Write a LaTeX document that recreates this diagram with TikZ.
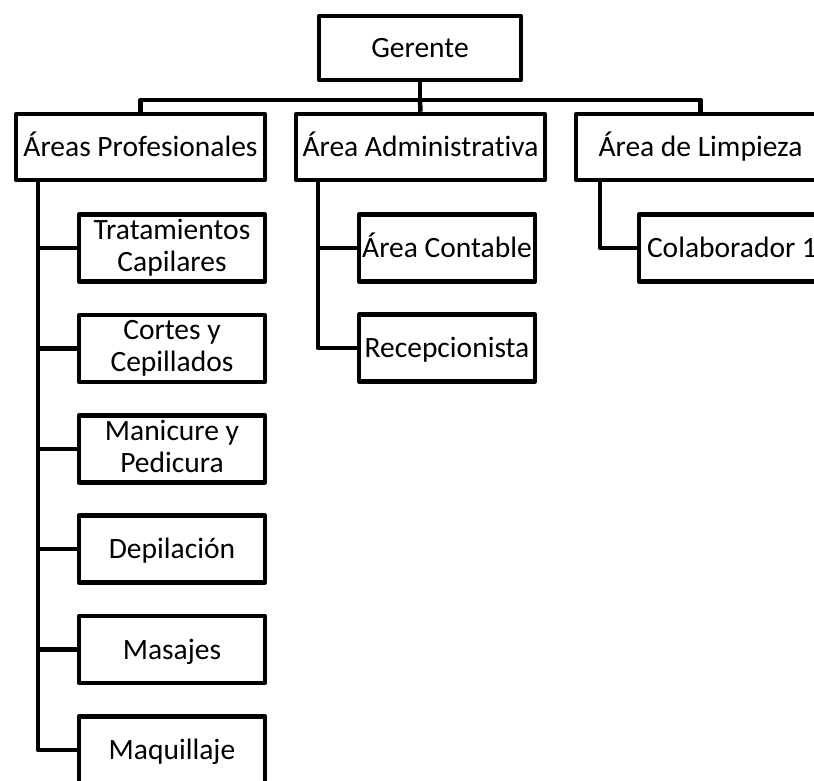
\documentclass[tikz,border=0pt]{standalone}
\usepackage{fontspec}
\setmainfont{Carlito}[Ligatures=NoCommon]
\usepackage{tikz}
\usetikzlibrary{positioning}
\newcommand{\orgstrut}{\rule[-5pt]{0pt}{29pt}}
\tikzset{orgbox/.style={rectangle,draw=black,fill=white,line width=4.5pt,
line join=round,inner sep=0pt,align=center,
font=\fontsize{29.5}{32}\selectfont,execute at begin node=\orgstrut}}
\tikzset{toplevel/.style={orgbox,minimum width=202pt,minimum height=64pt}}
\tikzset{arealevel/.style={orgbox,minimum width=249pt,minimum height=66pt}}
\tikzset{subarea/.style={orgbox,minimum width=186pt,minimum height=67pt}}
\tikzset{link/.style={line width=4.5pt,line join=round}}

\begin{document}
\begin{tikzpicture}[x=1pt,y=-1pt]
        \useasboundingbox (0,0) rectangle (814,780);

        \node[toplevel] (ger) at (420,48) {Gerente};

        \node[arealevel] (prof) at (140.5,147) {Áreas Profesionales};
        \node[arealevel] (admin) at (420.5,147) {Área Administrativa};
        \node[arealevel] (limp) at (700.5,147) {Área de Limpieza};

        \node[subarea] (trat) at (172,248) {Tratamientos\\\orgstrut Capilares};
        \node[subarea] (cort) at (172,348.4) {Cortes y\\\orgstrut Cepillados};
        \node[subarea] (mani) at (172,448.8) {Manicure y\\\orgstrut Pedicura};
        \node[subarea] (depi) at (172,549.2) {Depilación};
        \node[subarea] (masa) at (172,649.6) {Masajes};
        \node[subarea] (maqu) at (172,750) {Maquillaje};

        \node[subarea,minimum width=176pt] (cont) at (447,248) {Área Contable};
        \node[subarea,minimum width=176pt] (recep) at (447,348) {Recepcionista};

        \node[subarea] (colab) at (732,248) {Colaborador 1};

        % bus under the manager
        \draw[link] (ger.south) -- ++(0,17.5) coordinate (bus);
        \draw[link] (prof.north) |- (bus) -| (limp.north);
        \draw[link] (bus) -- (admin.north);

        % branches of each area
        \foreach \sub in {trat,cort,mani,depi,masa,maqu}
            \draw[link] ([xshift=24pt]prof.south west) |- (\sub.west);
        \foreach \sub in {cont,recep}
            \draw[link] ([xshift=24pt]admin.south west) |- (\sub.west);
        \draw[link] ([xshift=26pt]limp.south west) |- (colab.west);

    \end{tikzpicture}
\end{document}
